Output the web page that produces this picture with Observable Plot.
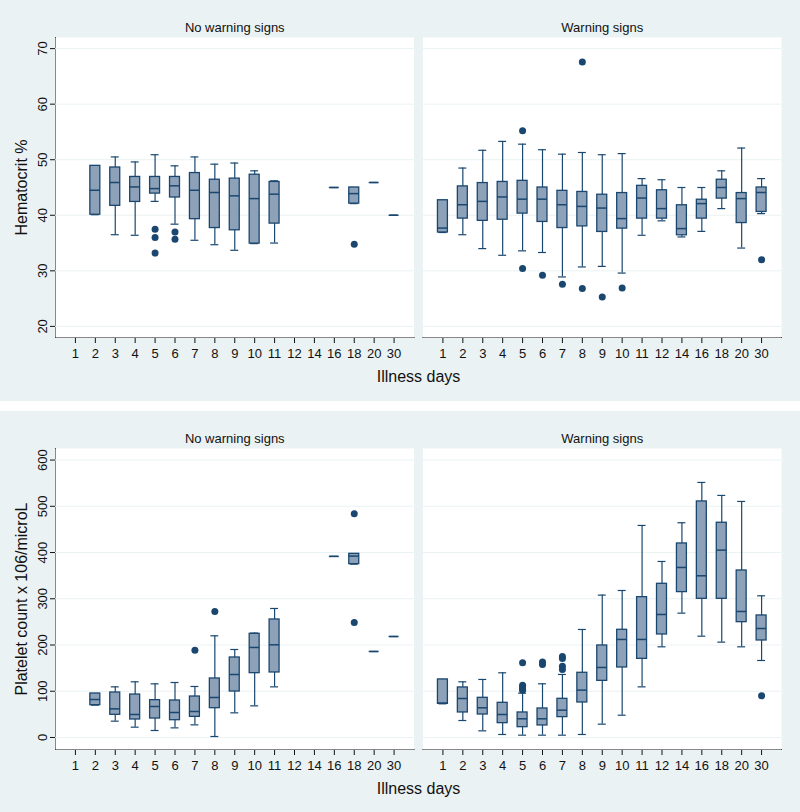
<!DOCTYPE html>
<html><head><meta charset="utf-8">
<script src="https://cdn.jsdelivr.net/npm/d3@7"></script>
<script src="https://cdn.jsdelivr.net/npm/@observablehq/plot@0.6"></script>
<style>
body{margin:0;background:#fff;font-family:"Liberation Sans",Arial,sans-serif;}
#top,#bottom{width:800px;height:401px;overflow:hidden;}
#gap{height:10px;background:#fff;}
</style></head><body>
<div id="top"></div><div id="gap"></div><div id="bottom"></div>
<script>
const days = ["1","2","3","4","5","6","7","8","9","10","11","12","14","16","18","20","30"];
const facets = ["No warning signs","Warning signs"];
const xLabel = "Illness days";
const hctLabel = "Hematocrit %";
const pltLabel = "Platelet count x 106/microL";
const hctTicks = [20,30,40,50,60,70];
const pltTicks = [0,100,200,300,400,500,600];

// [day, lower whisker, q1, median, q3, upper whisker]
const hctNoWarning = [
 ["2",40.1,40.1,44.5,48.9,48.9],
 ["3",36.5,41.7,45.9,48.6,50.5],
 ["4",36.4,42.4,45.1,46.9,49.6],
 ["5",42.5,43.9,44.8,46.9,50.9],
 ["6",38.4,43.2,45.3,46.9,48.9],
 ["7",35.5,39.3,44.5,47.6,50.5],
 ["8",34.7,37.7,44.1,46.4,49.2],
 ["9",33.7,37.3,43.5,46.6,49.4],
 ["10",34.9,34.9,43.0,47.3,48.0],
 ["11",35.0,38.5,43.8,46.0,46.2],
 ["16",45.0,45.0,45.0,45.0,45.0],
 ["18",42.1,42.1,43.9,45.0,45.0],
 ["20",45.9,45.9,45.9,45.9,45.9],
 ["30",40.0,40.0,40.0,40.0,40.0]
];
const hctNoWarningOutliers = [["5",37.5],["5",36.0],["5",33.2],["6",37.0],["6",35.7],["18",34.8]];
const hctWarning = [
 ["1",36.9,36.9,37.7,42.7,42.7],
 ["2",36.5,39.4,41.9,45.2,48.5],
 ["3",34.0,39.0,42.5,45.8,51.7],
 ["4",32.8,39.2,43.3,46.0,53.3],
 ["5",33.6,40.3,42.9,46.2,52.8],
 ["6",33.3,38.8,42.9,45.0,51.8],
 ["7",28.9,37.7,41.9,44.4,51.0],
 ["8",30.7,38.0,41.6,44.2,51.3],
 ["9",30.8,37.0,41.3,43.7,50.9],
 ["10",29.6,37.6,39.4,44.0,51.1],
 ["11",36.4,39.4,43.1,45.3,46.6],
 ["12",39.0,39.4,41.2,44.5,46.4],
 ["14",36.1,36.4,37.6,41.8,45.0],
 ["16",37.1,39.4,42.1,42.8,45.0],
 ["18",41.2,43.0,45.0,46.4,48.0],
 ["20",34.1,38.6,43.0,44.0,52.1],
 ["30",40.3,40.6,44.1,45.0,46.6]
];
const hctWarningOutliers = [["5",55.2],["5",30.4],["6",29.2],["7",27.6],["8",67.6],["8",26.8],["9",25.3],["10",26.9],["30",32.0]];

const pltNoWarning = [
 ["2",69.9,69.9,82.1,95.1,95.1],
 ["3",35.3,49.0,61.9,97.3,109.5],
 ["4",22.3,38.9,49.7,92.9,120.4],
 ["5",15.1,41.0,67.0,80.7,116.0],
 ["6",20.8,37.4,54.0,80.0,118.9],
 ["7",27.3,44.6,56.2,88.6,110.3],
 ["8",2.1,63.4,86.5,127.6,219.9],
 ["9",53.3,99.4,136.2,173.0,190.3],
 ["10",68.4,139.1,194.7,224.2,225.7],
 ["11",109.5,140.6,200.4,255.2,279.0],
 ["16",391.6,391.6,391.6,391.6,391.6],
 ["18",374.9,374.9,392.3,397.2,397.2],
 ["20",186.0,186.0,186.0,186.0,186.0],
 ["30",218.4,218.4,218.4,218.4,218.4]
];
const pltNoWarningOutliers = [["7",188.9],["8",272.5],["18",483.8],["18",248.8]];
const pltWarning = [
 ["1",72.8,72.8,74.3,125.5,125.5],
 ["2",36.7,54.1,84.3,108.2,120.4],
 ["3",14.4,49.7,64.2,85.8,125.5],
 ["4",6.5,31.0,49.7,75.0,139.9],
 ["5",5.0,22.3,40.4,54.1,95.9],
 ["6",5.0,26.0,40.4,62.7,116.1],
 ["7",5.0,44.0,59.1,83.6,136.3],
 ["8",6.5,75.7,102.4,139.9,233.6],
 ["9",28.8,122.5,151.4,199.0,307.9],
 ["10",48.2,151.4,212.0,232.9,317.9],
 ["11",109.5,170.1,212.0,303.5,458.6],
 ["12",196.1,222.8,266.0,332.4,380.7],
 ["14",268.9,314.4,367.7,419.6,464.4],
 ["16",219.1,299.9,349.7,510.5,551.6],
 ["18",206.2,299.9,405.2,464.4,523.5],
 ["20",196.1,249.4,272.5,361.2,510.5],
 ["30",166.5,209.8,235.7,263.9,306.4]
];
const pltWarningOutliers = [["5",161.5],["5",113],["5",109],["5",105],["5",102],["6",163],["6",158],["7",175],["7",171],["7",154],["7",147],["30",90.1]];

const bg = "#EAF2F3";
const navy = "#1A476F";
const boxFill = "#8DA1B9";
const font = "'Liberation Sans', Arial, sans-serif";

const toBoxes = (arr, facet) => arr.map(([day, lo, q1, med, q3, hi]) => ({facet, day, lo, q1, med, q3, hi}));
const toOut = (arr, facet) => arr.map(([day, v]) => ({facet, day, v}));

function boxChart({boxes, outliers, yDomain, yTicks, yLabel, marginBottom}) {
  return Plot.plot({
    width: 800, height: 401,
    marginTop: 37, marginBottom, marginLeft: 55, marginRight: 19,
    style: {background: bg, fontFamily: font, fontSize: "13px", color: "#111"},
    fx: {domain: facets, round: false, paddingInner: 9 / 367.5, paddingOuter: 0, axis: "top", tickSize: 0, tickPadding: 6, label: null},
    x: {type: "band", round: false, domain: days, paddingInner: 0.5, paddingOuter: 0.75, label: null, tickSize: 6, tickPadding: 5, line: true},
    y: {domain: yDomain, ticks: yTicks, label: null, line: true, tickSize: 5, tickRotate: -90},
    marks: [
      Plot.frame({fill: "white", stroke: null}),
      Plot.gridY(yTicks, {stroke: bg, strokeOpacity: 1, strokeWidth: 1}),
      Plot.ruleX(boxes, {fx: "facet", x: "day", y1: "lo", y2: "hi", stroke: navy, strokeWidth: 1.2}),
      Plot.tickY(boxes, {fx: "facet", x: "day", y: "lo", stroke: navy, strokeWidth: 1.2, insetLeft: 1, insetRight: 1}),
      Plot.tickY(boxes, {fx: "facet", x: "day", y: "hi", stroke: navy, strokeWidth: 1.2, insetLeft: 1, insetRight: 1}),
      Plot.barY(boxes, {fx: "facet", x: "day", y1: "q1", y2: "q3", fill: boxFill, stroke: navy, strokeWidth: 1.3}),
      Plot.tickY(boxes, {fx: "facet", x: "day", y: "med", stroke: navy, strokeWidth: 1.5}),
      Plot.dot(outliers, {fx: "facet", x: "day", y: "v", r: 3.5, fill: navy, stroke: null}),
      Plot.text([xLabel], {facet: "super", frameAnchor: "bottom", dy: 39, lineAnchor: "middle", textAnchor: "middle", fontSize: 16, fill: "#111"}),
      Plot.text([yLabel], {facet: "super", frameAnchor: "left", dx: -34, rotate: -90, lineAnchor: "middle", textAnchor: "middle", fontSize: 16, fill: "#111"})
    ]
  });
}

document.getElementById("top").append(boxChart({
  boxes: [...toBoxes(hctNoWarning, facets[0]), ...toBoxes(hctWarning, facets[1])],
  outliers: [...toOut(hctNoWarningOutliers, facets[0]), ...toOut(hctWarningOutliers, facets[1])],
  yDomain: [18, 72], yTicks: hctTicks, yLabel: hctLabel, marginBottom: 64
}));
document.getElementById("bottom").append(boxChart({
  boxes: [...toBoxes(pltNoWarning, facets[0]), ...toBoxes(pltWarning, facets[1])],
  outliers: [...toOut(pltNoWarningOutliers, facets[0]), ...toOut(pltWarningOutliers, facets[1])],
  yDomain: [-26, 625], yTicks: pltTicks, yLabel: pltLabel, marginBottom: 63
}));
</script>
</body></html>
